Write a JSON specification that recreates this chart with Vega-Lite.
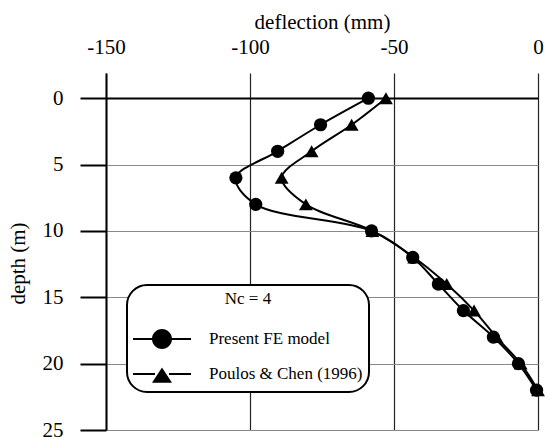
{
  "$schema": "https://vega.github.io/schema/vega-lite/v6.json",
  "width": 432,
  "height": 357,
  "autosize": {"type": "none"},
  "padding": {"left": 106, "top": 73, "right": 7, "bottom": 7},
  "background": "white",
  "config": {"view": {"stroke": null}, "font": "Liberation Serif", "legend": {"strokeWidth": 2}},
  "data": {
    "values": [
      {"series": "Present FE model", "depth": 0, "deflection": -58.9},
      {"series": "Present FE model", "depth": 2, "deflection": -75.5},
      {"series": "Present FE model", "depth": 4, "deflection": -90.4},
      {"series": "Present FE model", "depth": 6, "deflection": -104.9},
      {"series": "Present FE model", "depth": 8, "deflection": -98},
      {"series": "Present FE model", "depth": 10, "deflection": -57.8},
      {"series": "Present FE model", "depth": 12, "deflection": -43.5},
      {"series": "Present FE model", "depth": 14, "deflection": -34.6},
      {"series": "Present FE model", "depth": 16, "deflection": -25.9},
      {"series": "Present FE model", "depth": 18, "deflection": -15.5},
      {"series": "Present FE model", "depth": 20, "deflection": -6.8},
      {"series": "Present FE model", "depth": 22, "deflection": -0.5},
      {"series": "Poulos & Chen (1996)", "depth": 0, "deflection": -52.8},
      {"series": "Poulos & Chen (1996)", "depth": 2, "deflection": -64.7},
      {"series": "Poulos & Chen (1996)", "depth": 4, "deflection": -78.6},
      {"series": "Poulos & Chen (1996)", "depth": 6, "deflection": -89},
      {"series": "Poulos & Chen (1996)", "depth": 8, "deflection": -80.6},
      {"series": "Poulos & Chen (1996)", "depth": 10, "deflection": -57.5},
      {"series": "Poulos & Chen (1996)", "depth": 12, "deflection": -43},
      {"series": "Poulos & Chen (1996)", "depth": 14, "deflection": -31.7},
      {"series": "Poulos & Chen (1996)", "depth": 16, "deflection": -22.2},
      {"series": "Poulos & Chen (1996)", "depth": 18, "deflection": -14.4},
      {"series": "Poulos & Chen (1996)", "depth": 20, "deflection": -6.0},
      {"series": "Poulos & Chen (1996)", "depth": 22, "deflection": 0}
    ]
  },
  "layer": [
    {
      "mark": {"type": "line", "interpolate": "catmull-rom", "color": "black", "strokeWidth": 2},
      "encoding": {
        "x": {
          "field": "deflection", "type": "quantitative",
          "scale": {"domain": [-150, 0], "nice": false, "zero": false},
          "axis": {
            "orient": "top", "title": "deflection (mm)", "values": [-150, -100, -50, 0],
            "labelExpr": "datum.value == 0 ? '0' : '-' + abs(datum.value)",
            "labelFlush": false, "labelOverlap": false,
            "domain": false, "ticks": false, "tickSize": 0,
            "labelPadding": 20, "labelBaseline": "alphabetic", "labelFontSize": 21,
            "labelColor": "black", "labelFont": "Liberation Serif",
            "titleFontSize": 21, "titleFontWeight": "normal", "titleColor": "black",
            "titleFont": "Liberation Serif", "titleY": -45, "titleBaseline": "alphabetic",
            "grid": true, "gridColor": "#222", "gridWidth": 1.2, "gridOpacity": 1
          }
        },
        "y": {
          "field": "depth", "type": "quantitative",
          "scale": {"domain": [-1.9, 25], "reverse": true, "nice": false, "zero": false},
          "axis": {
            "title": "depth (m)", "values": [0, 5, 10, 15, 20, 25],
            "labelFlush": false,
            "domain": true, "domainColor": "black", "domainWidth": 2,
            "ticks": true, "tickSize": 26, "tickColor": "black", "tickWidth": 2,
            "labelPadding": 17, "labelFontSize": 21, "labelColor": "black", "labelFont": "Liberation Serif",
            "grid": true,
            "gridColor": {"condition": {"test": "datum.value === 0", "value": "black"}, "value": "#888"},
            "gridWidth": {"condition": {"test": "datum.value === 0", "value": 2.2}, "value": 1},
            "gridOpacity": 1,
            "titleFontSize": 21, "titleFontWeight": "normal", "titleColor": "black",
            "titleFont": "Liberation Serif", "titleX": -82, "titleY": 190, "titleBaseline": "alphabetic"
          }
        },
        "detail": {"field": "series"},
        "order": {"field": "depth", "type": "quantitative"}
      }
    },
    {
      "transform": [{"filter": "datum.series === 'Present FE model'"}],
      "mark": {"type": "point", "shape": "circle", "filled": true, "color": "black", "size": 175, "opacity": 1},
      "encoding": {
        "x": {"field": "deflection", "type": "quantitative"},
        "y": {"field": "depth", "type": "quantitative"}
      }
    },
    {
      "transform": [{"filter": "datum.series === 'Poulos & Chen (1996)'"}],
      "mark": {"type": "point", "shape": "triangle-up", "filled": true, "color": "black", "size": 190, "opacity": 1},
      "encoding": {
        "x": {"field": "deflection", "type": "quantitative"},
        "y": {"field": "depth", "type": "quantitative"}
      }
    },
    {
      "mark": {"type": "point", "filled": true, "color": "black", "opacity": 0},
      "encoding": {
        "x": {"field": "deflection", "type": "quantitative"},
        "y": {"field": "depth", "type": "quantitative"},
        "shape": {
          "field": "series", "type": "nominal",
          "scale": {
            "domain": ["Present FE model", "Poulos & Chen (1996)"],
            "range": [
              "M-2.9,-0.1L-0.8,-0.1L-0.8,0.1L-2.9,0.1ZM0.8,-0.1L2.9,-0.1L2.9,0.1L0.8,0.1ZM1,0A1,1,0,1,1,-1,0A1,1,0,1,1,1,0Z",
              "M-2.9,-0.1L-0.7,-0.1L-0.7,0.1L-2.9,0.1ZM0.7,-0.1L2.9,-0.1L2.9,0.1L0.7,0.1ZM0,-0.66L1,0.88L-1,0.88Z"
            ]
          },
          "legend": {
            "orient": "none", "legendX": 21, "legendY": 212,
            "title": "Nc = 4", "titleFontSize": 17, "titleFontWeight": "normal", "titleColor": "black",
            "titleFont": "Liberation Serif", "titleAnchor": "middle", "titleAlign": "center", "titlePadding": 20,
            "labelFontSize": 17, "labelColor": "black", "labelFont": "Liberation Serif",
            "labelOffset": 36, "symbolOffset": 18, "symbolSize": 400, "rowPadding": 11,
            "padding": 6, "fillColor": "white", "strokeColor": "black", "cornerRadius": 20,
            "symbolFillColor": "black",
            "encode": {
              "legend": {"update": {"strokeWidth": {"value": 2}, "stroke": {"value": "black"}}},
              "symbols": {"update": {"fill": {"value": "black"}, "opacity": {"value": 1}}}
            }
          }
        }
      }
    }
  ]
}
